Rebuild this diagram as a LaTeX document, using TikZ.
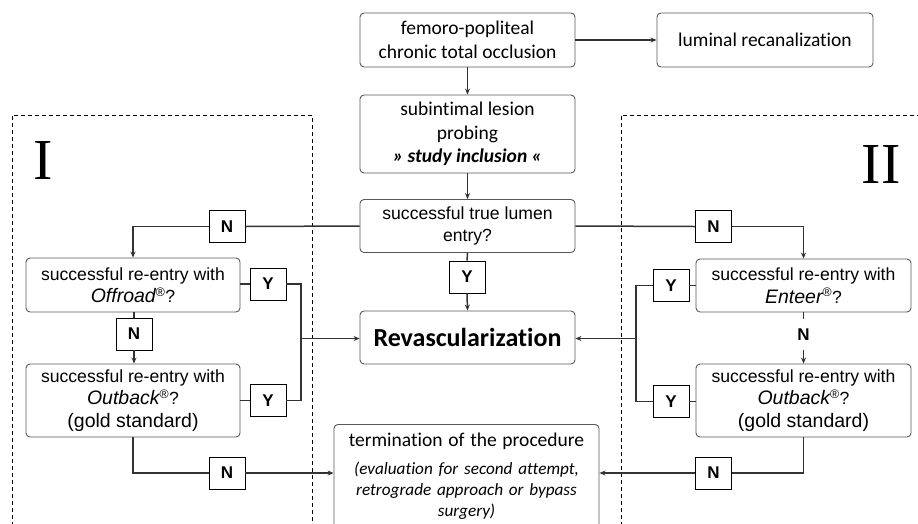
\documentclass[tikz,border=0pt]{standalone}
\usepackage{fontspec}
\setmainfont{Carlito}[Ligatures={NoCommon}]
\newfontfamily\arial{Liberation Sans}
\newfontfamily\tnr{Liberation Serif}
\usetikzlibrary{arrows.meta}
\definecolor{ln}{HTML}{333333}
\definecolor{bd}{HTML}{595959}
\newcommand\calfont{\fontsize{19.5pt}{23.5pt}\selectfont}
\newcommand\arialtxt{\arial\fontsize{17.6pt}{22.5pt}\selectfont}
\begin{document}
\begin{tikzpicture}[x=1pt,y=-1pt,
  conn/.style={draw=ln, line width=1.5pt},
  arr/.style={conn, -{Stealth[length=6pt,width=5pt]}},
  box/.style={draw=bd, line width=0.9pt, rounded corners=4pt, minimum width=215pt,
    align=center, inner sep=0pt, fill=white, font=\calfont},
  yn/.style={draw=black, line width=0.9pt, fill=white, minimum width=36pt,
    minimum height=32pt, inner sep=0pt, font=\arial\fontsize{17pt}{20pt}\selectfont\bfseries},
  dbox/.style={draw=black, dash pattern=on 4pt off 3pt, line width=0.8pt},
  roman/.style={inner sep=0pt, font=\tnr\fontsize{58pt}{60pt}\selectfont}
]
\useasboundingbox (0,0) rectangle (918,523);

% dashed regions
\draw[dbox] (12,540) -- (12,115) -- (312,115) -- (312,540);
\draw[dbox] (621,540) -- (621,115) -- (930,115);
\node[roman] (rI) at (43.5,161) {I};
\node[roman] (rII) at (881,165) {II};

% main boxes
\node[box, minimum height=54pt] (A) at (467.5,40) {femoro-popliteal\\chronic total occlusion};
\node[box, minimum width=216pt, minimum height=54pt] (B) at (765,40) {luminal recanalization};
\node[box, minimum height=78pt] (C) at (467.5,134) {subintimal lesion\\probing\\{\bfseries\itshape » study inclusion «}};
\node[box, minimum height=53pt, font=\arialtxt] (D) at (467.5,226) {successful true lumen\\entry?};
\node[box, minimum height=53pt, font=\fontsize{26pt}{30pt}\selectfont\bfseries] (R) at (467.5,337.5) {Revascularization};

\node[box, minimum width=214pt, minimum height=54pt, font=\arialtxt] (E) at (133,285) {successful re-entry with\\{\calfont\itshape Offroad}\textsuperscript{®}?};
\node[box, minimum width=214pt, minimum height=73pt, font=\arialtxt] (F) at (133,400.5) {successful re-entry with\\{\calfont\itshape Outback}\textsuperscript{®}?\\{\calfont (gold standard)}};
\node[box, minimum height=53pt, font=\arialtxt] (G) at (803.5,285.5) {successful re-entry with\\{\calfont\itshape Enteer}\textsuperscript{®}?};
\node[box, minimum height=73pt, font=\arialtxt] (H) at (803.5,400.5) {successful re-entry with\\{\calfont\itshape Outback}\textsuperscript{®}?\\{\calfont (gold standard)}};

\node[box, anchor=north, minimum width=265pt, minimum height=104pt, text width=255pt,
  font=\fontsize{17.2pt}{21pt}\selectfont\itshape] (T) at (466.5,424)
  {{\calfont\upshape termination of the procedure}\\[7pt](evaluation for second attempt,\\retrograde approach or bypass\\surgery)};

% Y / N boxes
\node[yn] (nL) at (227,226.5) {N};
\node[yn] (nR) at (713.5,226.5) {N};
\node[yn] (yD) at (467,277) {Y};
\node[yn] (yE) at (268,284) {Y};
\node[yn] (yF) at (268,400.5) {Y};
\node[yn] (nE) at (134,334) {N};
\node[yn] (yG) at (671,285.5) {Y};
\node[yn] (yH) at (671,401.5) {Y};
\node[yn] (nb1) at (227,473) {N};
\node[yn] (nb2) at (713.5,473) {N};
\node[inner sep=0pt, minimum height=30pt, font=\arial\fontsize{17pt}{20pt}\selectfont\bfseries] (nG) at (803.5,334.5) {N};

\coordinate (jL) at (301,338.5);
\coordinate (jR) at (636,338.5);

% connectors
\draw[arr] (A.east) -- (B.west);
\draw[arr] (A.south) -- (C.north);
\draw[arr] (C.south) -- (D.north);
\draw[conn] (D.west) -- (nL.east);
\draw[arr] (nL.west) -| (E.north);
\draw[conn] (D.east) -- (nR.west);
\draw[arr] (nR.east) -| (G.north);
\draw[conn] (D.south) -- (yD.north);
\draw[arr] (yD.south) -- (R.north);

\draw[conn] (E.east |- yE.west) -- (yE.west);
\draw[conn] (yE.east) -| (jL) |- (yF.east);
\draw[conn] (F.east |- yF.west) -- (yF.west);
\draw[arr] (jL) -- (jL -| R.west);
\draw[conn] (E.south -| nE.north) -- (nE.north);
\draw[arr] (nE.south) -- (nE.south |- F.north);

\draw[conn] (G.west |- yG.east) -- (yG.east);
\draw[conn] (yG.west) -| (jR) |- (yH.west);
\draw[conn] (H.west |- yH.east) -- (yH.east);
\draw[arr] (jR) -- (jR -| R.east);
\draw[conn] (G.south) -- (nG.north);
\draw[arr] (nG.south) -- (H.north);

\draw[conn] (F.south) |- (nb1.west);
\draw[arr] (nb1.east) -- (nb1.east -| T.west);
\draw[conn] (H.south) |- (nb2.east);
\draw[arr] (nb2.west) -- (nb2.west -| T.east);
\end{tikzpicture}
\end{document}
